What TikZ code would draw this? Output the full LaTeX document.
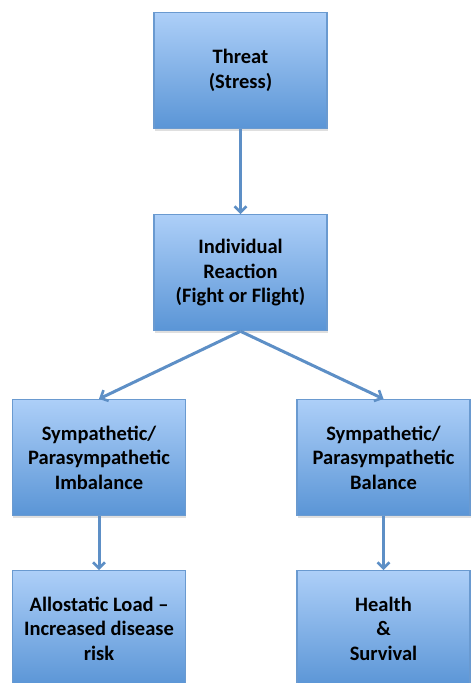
\documentclass[tikz,border=0pt]{standalone}
\usepackage{fontspec}
\setmainfont{Carlito}
\usepackage{tikz}
\usetikzlibrary{arrows.meta,positioning,shadows}
\definecolor{boxtop}{HTML}{ADCFF8}
\definecolor{boxbot}{HTML}{5A95D6}
\definecolor{edge}{HTML}{6A9AD0}
\definecolor{link}{HTML}{5D8FC6}

\begin{document}
\begin{tikzpicture}[x=1pt, y=-1pt, every node/.style={font=\fontsize{20.5}{24.5}\selectfont\bfseries}, stage/.style={draw=edge, line width=1.2pt, top color=boxtop, bottom color=boxbot, minimum width=173pt, minimum height=116pt, align=center, inner sep=0pt, drop shadow={opacity=0.25, shadow xshift=0.5pt, shadow yshift=-2pt}}, arr/.style={-{Straight Barb[length=6pt, width=12pt, line width=2.6pt]}, line width=3pt, link}]
\useasboundingbox (0,0) rectangle (475,683);
\node[stage] (threat) at (240.5,70.5) {Threat\\(Stress)};
\node[stage, below=85pt of threat] (reaction) {Individual\\Reaction\\(Fight or Flight)};
\node[stage] (imbalance) at (99,457.5) {Sympathetic/\\Parasympathetic\\Imbalance};
\node[stage] (balance) at (383.5,457.5) {Sympathetic/\\Parasympathetic\\Balance};
\node[stage, below=54pt of imbalance] (load) {Allostatic Load --\\Increased disease\\risk};
\node[stage, below=54pt of balance] (health) {Health\\\&\\Survival};
\draw[arr] (threat)--(reaction);\draw[arr] (reaction.south)--(imbalance.north);\draw[arr] (reaction.south)--(balance.north);
\draw[arr] (imbalance)--(load);\draw[arr] (balance)--(health);
\end{tikzpicture}
\end{document}
